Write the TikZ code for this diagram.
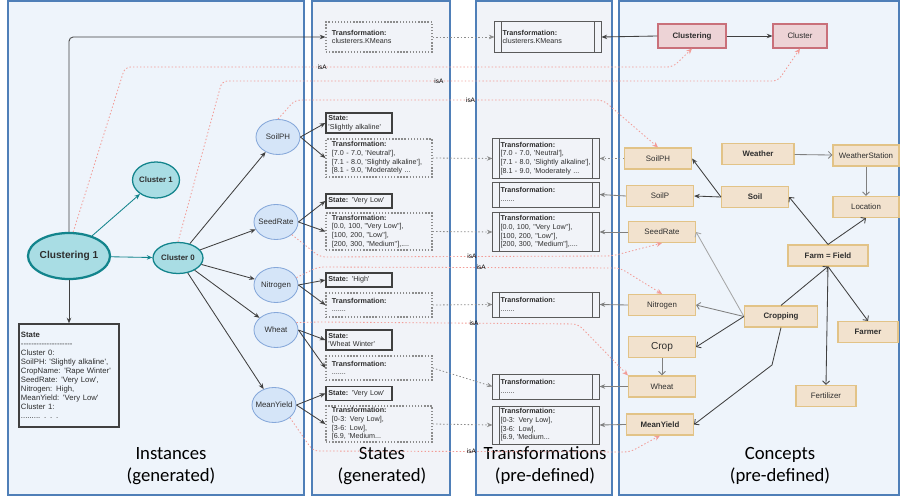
\documentclass[tikz,border=0pt]{standalone}
\usepackage{fontspec}
\setmainfont{Liberation Sans}[Ligatures=TeXOff]
\newfontfamily\panelfont{Carlito}
\usetikzlibrary{arrows.meta,shapes.geometric}

\definecolor{panelline}{HTML}{4F7FB8}
\definecolor{genfill}{HTML}{EEF4FB}
\definecolor{stfill}{HTML}{F1F3F8}
\definecolor{instline}{HTML}{86A8DA}
\definecolor{instfill}{HTML}{D5E5F8}
\definecolor{clusline}{HTML}{12848C}
\definecolor{clusfill}{HTML}{A9DDE4}
\definecolor{conline}{HTML}{E2C387}
\definecolor{confill}{HTML}{F2E2CE}
\definecolor{mlline}{HTML}{C9707A}
\definecolor{mlfill}{HTML}{EDD3D6}
\definecolor{isaline}{HTML}{F29C97}
\definecolor{darkline}{HTML}{404040}
\definecolor{procline}{HTML}{5A5A5A}
\definecolor{dotgray}{HTML}{8C8C8C}
\definecolor{midgray}{HTML}{7F7F7F}
\definecolor{lightline}{HTML}{A6A6A6}
\definecolor{textdark}{HTML}{2E2E2E}

\newcommand\nodefs{\fontsize{5.6}{6.7}\selectfont}
\newcommand\bigfs{\fontsize{7.2}{8.6}\selectfont}
\newcommand\boxfs{\fontsize{5.1}{6.2}\selectfont}
\newcommand\statefs{\fontsize{5.5}{6.4}\selectfont\hyphenpenalty=10000}
\newcommand\isafs{\fontsize{4.6}{5}\selectfont}

\tikzstyle{panel}=[draw=panelline, line width=0.8pt]
\tikzstyle{paneltitle}=[font=\panelfont\fontsize{13.3}{15.6}\selectfont, align=center, text=black]
\tikzstyle{inst}=[ellipse, draw=instline, fill=instfill, line width=0.6pt, minimum width=1.1cm, minimum height=0.875cm, inner xsep=-4pt, inner ysep=0pt, font=\nodefs, text=textdark]
\tikzstyle{clus}=[ellipse, draw=clusline, fill=clusfill, line width=0.9pt, inner xsep=-4pt, inner ysep=0pt, font=\nodefs\bfseries, text=textdark]
\tikzstyle{concept}=[rectangle, draw=conline, fill=confill, line width=0.8pt, minimum width=1.675cm, minimum height=0.525cm, inner sep=1pt, font=\nodefs, text=textdark]
\tikzstyle{conml}=[concept, draw=mlline, fill=mlfill, minimum height=0.6cm]
\tikzstyle{stbox}=[draw=darkline, line width=0.9pt, text width=1.53cm, inner xsep=0.06cm, inner ysep=1pt, align=left, font=\boxfs, text=textdark]
\tikzstyle{trbox}=[draw=dotgray, line width=0.8pt, dash pattern=on 1pt off 1.2pt, text width=2.35cm, inner xsep=0.15cm, inner ysep=1pt, align=left, font=\boxfs, text=textdark]
\tikzstyle{tfbox}=[draw=procline, line width=0.7pt, text width=2.27cm, inner xsep=0.19cm, inner ysep=1pt, align=left, font=\boxfs, text=textdark,
  path picture={\draw[procline, line width=0.7pt] ([xshift=0.16cm]path picture bounding box.north west) -- ([xshift=0.16cm]path picture bounding box.south west) ([xshift=-0.16cm]path picture bounding box.north east) -- ([xshift=-0.16cm]path picture bounding box.south east);}]
\tikzstyle{darkarr}=[draw=darkline, line width=0.6pt, -{Stealth[length=4pt,width=3.2pt]}]
\tikzstyle{tealarr}=[draw=clusline, line width=0.6pt, -{Stealth[length=4pt,width=3.2pt]}]
\tikzstyle{grayarr}=[draw=midgray, line width=0.6pt, -{Stealth[length=4pt,width=3.2pt]}]
\tikzstyle{dotarr}=[draw=dotgray, line width=0.6pt, dash pattern=on 1pt off 1.5pt, -{Stealth[length=4pt,width=3.2pt]}]
\tikzstyle{openarr}=[draw=darkline, line width=0.6pt, -{Straight Barb[length=2.5pt,width=5pt]}]
\tikzstyle{isa}=[draw=isaline, line width=0.6pt, dash pattern=on 1pt off 1.5pt, rounded corners=4pt, -{Stealth[length=4pt,width=3.5pt]}]
\tikzstyle{isalabel}=[font=\isafs, text=black, inner sep=0.5pt]

\begin{document}
\begin{tikzpicture}[x=0.025cm, y=-0.025cm]
\useasboundingbox (0,0) rectangle (902,497);
\fill[white] (0,0) rectangle (902,497);

\draw[panel, fill=genfill] (8,1) rectangle (304,495);
\draw[panel, fill=stfill] (312,1) rectangle (450,495);
\draw[panel, fill=stfill] (476,1) rectangle (612,495);
\draw[panel, fill=genfill] (619,1) rectangle (899,495);

\node[paneltitle] (tInst) at (171,466) {Instances\\(generated)};
\node[paneltitle] (tStates) at (382,466) {States\\(generated)};
\node[paneltitle] (tTrans) at (545,466) {Transformations\\(pre-defined)};
\node[paneltitle] (tConc) at (780,466) {Concepts\\(pre-defined)};

\node[clus, line width=1.6pt, minimum width=2.05cm, minimum height=1.15cm, font=\bigfs\bfseries] (clu1) at (69,256) {Clustering 1};
\node[clus, minimum width=1.175cm, minimum height=0.9cm] (c1) at (156,180) {Cluster 1};
\node[clus, minimum width=1.25cm, minimum height=0.775cm] (c0) at (178,258) {Cluster 0};
\node[inst] (soilph) at (278,137) {SoilPH};
\node[inst] (seed) at (276,222) {SeedRate};
\node[inst] (nitro) at (276,285) {Nitrogen};
\node[inst] (wheat) at (276,330) {Wheat};
\node[inst] (yield) at (274,405) {MeanYield};
\node[stbox, font=\statefs, text width=2.4cm, inner xsep=0.05cm, minimum height=2.575cm] (instState) at (69,375.5) {\textbf{State}\\--------------------\\Cluster 0:\\SoilPH: 'Slightly alkaline',\\CropName: 'Rape Winter'\\SeedRate: 'Very Low',\\Nitrogen: High,\\MeanYield: 'Very Low'\\Cluster 1:\\......... . . .};

\node[trbox, minimum height=0.75cm] (trKmeans) at (379,37) {\textbf{Transformation:}\\clusterers.KMeans};
\node[stbox, minimum height=0.5cm] (stSoilph) at (359,123) {\textbf{State:}\\'Slightly alkaline'};
\node[trbox, minimum height=0.95cm] (trSoilph) at (379,158) {\textbf{Transformation:}\\{}[7.0 - 7.0, 'Neutral'],\\{}[7.1 - 8.0, 'Slightly alkaline'],\\{}[8.1 - 9.0, 'Moderately ...};
\node[stbox, minimum height=0.35cm] (stSeed) at (359,201) {\textbf{State:} 'Very Low'};
\node[trbox, minimum height=0.925cm] (trSeed) at (379,231.5) {\textbf{Transformation:}\\{}[0.0, 100, "Very Low"],\\{}[100, 200,  "Low"],\\{}[200, 300, "Medium"],....};
\node[stbox, minimum height=0.35cm] (stNitro) at (359,280) {\textbf{State:} 'High'};
\node[trbox, minimum height=0.6cm] (trNitro) at (379,305) {\textbf{Transformation:}\\.......};
\node[stbox, minimum height=0.5cm] (stWheat) at (359,340) {\textbf{State:}\\'Wheat Winter'};
\node[trbox, minimum height=0.6cm] (trWheat) at (379,368) {\textbf{Transformation:}\\.......};
\node[stbox, minimum height=0.35cm] (stYield) at (359,393.5) {\textbf{State:} 'Very Low'};
\node[trbox, minimum height=0.9cm] (trYield) at (379,424) {\textbf{Transformation:}\\{}[0-3: Very Low],\\{}[3-6: Low],\\{}[6.9, 'Medium...};

\node[tfbox, minimum height=0.75cm] (tfKmeans) at (548,37) {\textbf{Transformation:}\\clusterers.KMeans};
\node[tfbox, minimum height=0.975cm] (tfSoilph) at (546,158.5) {\textbf{Transformation:}\\{}[7.0 - 7.0, 'Neutral'],\\{}[7.1 - 8.0, 'Slightly alkaline'],\\{}[8.1 - 9.0, 'Moderately ...};
\node[tfbox, minimum height=0.625cm] (tfSoilp) at (546,194.5) {\textbf{Transformation:}\\.......};
\node[tfbox, minimum height=0.95cm] (tfSeed) at (546,232) {\textbf{Transformation:}\\{}[0.0, 100, "Very Low"],\\{}[100, 200,  "Low"],\\{}[200, 300, "Medium"],....};
\node[tfbox, minimum height=0.625cm] (tfNitro) at (546,304.5) {\textbf{Transformation:}\\.......};
\node[tfbox, minimum height=0.625cm] (tfWheat) at (546,386.5) {\textbf{Transformation:}\\.......};
\node[tfbox, minimum height=0.95cm] (tfYield) at (546,425) {\textbf{Transformation:}\\{}[0-3: Very Low],\\{}[3-6: Low],\\{}[6.9, 'Medium...};

\node[conml, minimum width=1.7cm, font=\nodefs\bfseries] (cClustering) at (692,36) {Clustering};
\node[conml, minimum width=1.35cm] (cCluster) at (800,36) {Cluster};
\node[concept] (cSoilph) at (658,158.5) {SoilPH};
\node[concept] (cSoilp) at (660,196) {SoilP};
\node[concept] (cSeed) at (662,232) {SeedRate};
\node[concept, minimum width=1.8cm, font=\nodefs\bfseries] (cWeather) at (758,154) {Weather};
\node[concept, minimum width=1.65cm] (cStation) at (866,155.5) {WeatherStation};
\node[concept, font=\nodefs\bfseries] (cSoil) at (755,197) {Soil};
\node[concept, minimum width=1.65cm] (cLocation) at (866,207) {Location};
\node[concept, minimum width=2cm, font=\nodefs\bfseries] (cFarm) at (828,255.5) {Farm = Field};
\node[concept] (cNitro) at (662,305) {Nitrogen};
\node[concept, minimum width=1.825cm, font=\nodefs\bfseries] (cCropping) at (781,316.5) {Cropping};
\node[concept, minimum width=1.5cm, font=\nodefs\bfseries] (cFarmer) at (868,332) {Farmer};
\node[concept, font=\bigfs] (cCrop) at (662,347) {Crop};
\node[concept] (cWheat) at (662,386.5) {Wheat};
\node[concept, minimum width=1.5cm] (cFertilizer) at (826,396) {Fertilizer};
\node[concept, font=\nodefs\bfseries] (cYield) at (660,424.5) {MeanYield};

\draw[tealarr] (clu1) -- (c1);
\draw[tealarr] (clu1) -- (c0);
\draw[darkarr] (clu1) -- (instState);
\draw[darkarr, rounded corners=3pt] (clu1.north) |- (trKmeans.west);
\draw[darkarr] (c0) -- (soilph);
\draw[darkarr] (c0) -- (seed);
\draw[darkarr] (c0) -- (nitro);
\draw[darkarr] (c0) -- (wheat);
\draw[darkarr] (c0) -- (yield);

\draw[darkarr] (soilph.east) -- (stSoilph.west);
\draw[darkarr] (soilph.east) -- (trSoilph.west);
\draw[darkarr] (seed.east) -- (stSeed.west);
\draw[darkarr] (seed.east) -- (trSeed.west);
\draw[darkarr] (nitro.east) -- (stNitro.west);
\draw[darkarr] (nitro.east) -- (trNitro.west);
\draw[darkarr] (wheat.east) -- (stWheat.west);
\draw[darkarr] (wheat.east) -- (trWheat.west);
\draw[darkarr] (yield.east) -- (stYield.west);
\draw[darkarr] (yield.east) -- (trYield.west);

\draw[dotarr] (trKmeans.east) -- (tfKmeans.west);
\draw[dotarr] (trSoilph.east) -- (tfSoilph.west);
\draw[dotarr] (trSeed.east) -- (tfSeed.west);
\draw[dotarr] (trNitro.east) -- (tfNitro.west);
\draw[dotarr] (trWheat.east) -- (tfWheat.west);
\draw[dotarr] (trYield.east) -- (tfYield.west);

\draw[darkarr] (cClustering.west) -- (tfKmeans.east);
\draw[dotarr] (cSoilph.west) -- (tfSoilph.east);
\draw[grayarr] (cSoilp.west) -- (tfSoilp.east);
\draw[grayarr] (cSeed.west) -- (tfSeed.east);
\draw[grayarr] (cNitro.west) -- (tfNitro.east);
\draw[grayarr] (cWheat.west) -- (tfWheat.east);
\draw[grayarr] (cYield.west) -- (tfYield.east);

\draw[darkarr] (cClustering) -- (cCluster);
\draw[openarr, draw=midgray] (cWeather) -- (cStation);
\draw[openarr, draw=midgray] (cStation) -- (cLocation);
\draw[darkarr] (cSoil.west) -- (cSoilph.east);
\draw[darkarr] (cSoil.west) -- (cSoilp.east);
\draw[openarr] (cFarm.north) -- (cSoil.east);
\draw[openarr] (cFarm.north) -- (cLocation.south);
\draw[openarr] (cCropping.north) -- (cFarm.south);
\draw[openarr] (cFarm.south) -- (cFertilizer.north);
\draw[openarr] (cFarm.south) -- (cFarmer.north);
\draw[openarr, draw=lightline] (cCropping.west) -- (cSeed.east);
\draw[openarr, draw=midgray] (cCropping.west) -- (cNitro.east);
\draw[openarr] (cCropping.west) -- (cCrop.east);
\draw[openarr] (cCropping.south) -- (772,365) -- (cYield.east);
\draw[openarr, draw=midgray] (cCrop) -- (cWheat);

\draw[isa] (clu1.80) -- (125,67) -- node[isalabel, pos=0.36] (isa1) {isA} (673,67) -- (cClustering.south);
\draw[isa] (c0.north) -- (222,81) -- node[isalabel, pos=0.39] (isa2) {isA} (778,81) -- (cCluster.south);
\draw[isa] (soilph.north) -- (295,100) -- node[isalabel, pos=0.57] (isa3) {isA} (603,100) -- (cSoilph.north);
\draw[isa] (seed.south east) -- (320,257) -- node[isalabel, pos=0.52] (isa4) {isA} (612,256) -- (cSeed.south);
\draw[isa] (nitro.20) -- (318,267) -- node[isalabel, pos=0.54] (isa5) {isA} (620,268) -- (cNitro.north);
\draw[isa] (wheat.20) -- (318,322) -- node[isalabel, pos=0.6] (isa6) {isA} (578,324) -- (cWheat.north west);
\draw[isa] (yield.south east) -- (313,451) -- node[isalabel, pos=0.5] (isa7) {isA} (630,452) -- (cYield.south);
\end{tikzpicture}
\end{document}
